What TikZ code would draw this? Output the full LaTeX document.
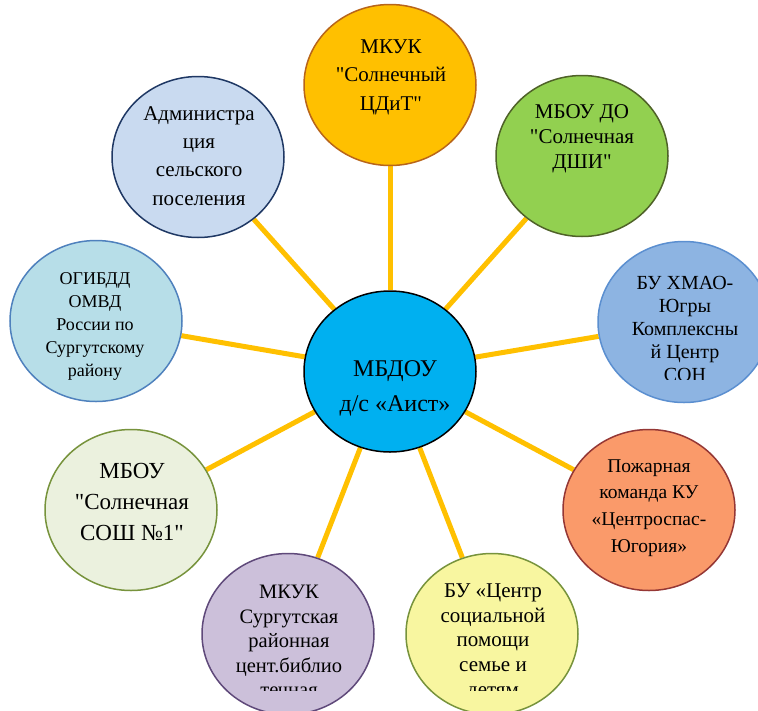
\documentclass[tikz,border=0pt]{standalone}
\usepackage{fontspec}
\setmainfont{Liberation Serif}[Ligatures=TeXOff]
\usetikzlibrary{shapes.geometric,backgrounds}

\definecolor{linkgold}{HTML}{FFC000}
\definecolor{hubfill}{HTML}{00B0F0}
\definecolor{cditfill}{HTML}{FFC000}
\definecolor{cditline}{HTML}{B8651A}
\definecolor{adminfill}{HTML}{C9DAF0}
\definecolor{adminline}{HTML}{1F3864}
\definecolor{dshifill}{HTML}{92D050}
\definecolor{dshiline}{HTML}{4F6228}
\definecolor{gibddfill}{HTML}{B7DEE8}
\definecolor{gibddline}{HTML}{4F81BD}
\definecolor{consfill}{HTML}{8DB4E2}
\definecolor{consline}{HTML}{5B8FD0}
\definecolor{soshfill}{HTML}{EBF1DE}
\definecolor{soshline}{HTML}{77933C}
\definecolor{firefill}{HTML}{FA9A6A}
\definecolor{fireline}{HTML}{953735}
\definecolor{libfill}{HTML}{CCC0DA}
\definecolor{libline}{HTML}{5F497A}
\definecolor{helpfill}{HTML}{F8F6A0}
\definecolor{helpline}{HTML}{77933C}

\tikzset{
  org/.style={ellipse, minimum width=172pt, minimum height=161pt, inner sep=0pt, line width=1.5pt},
  link/.style={linkgold, line width=5pt},
  txt/.style={align=center, inner sep=0pt},
}

\begin{document}
\begin{tikzpicture}[x=1pt,y=-1pt]
\clip (0,0) rectangle (758,710);
\node[org, draw=black, fill=hubfill] (hub) at (390,371.5) {};
\node[org, draw=cditline, fill=cditfill] (cdit) at (390,85) {};
\node[org, draw=adminline, fill=adminfill] (admin) at (198,157) {};
\node[org, draw=dshiline, fill=dshifill] (dshi) at (582,156) {};
\node[org, draw=gibddline, fill=gibddfill] (gibdd) at (96,321) {};
\node[org, draw=consline, fill=consfill] (cons) at (684,322) {};
\node[org, draw=soshline, fill=soshfill] (sosh) at (131,510) {};
\node[org, draw=fireline, fill=firefill] (fire) at (649,510) {};
\node[org, draw=libline, fill=libfill] (lib) at (288,634) {};
\node[org, draw=helpline, fill=helpfill] (help) at (492,634) {};

\begin{scope}[on background layer]
\draw[link] (hub) -- (cdit);
\draw[link] (hub) -- (admin);
\draw[link] (hub) -- (dshi);
\draw[link] (hub) -- (gibdd);
\draw[link] (hub) -- (cons);
\draw[link] (hub) -- (sosh);
\draw[link] (hub) -- (fire);
\draw[link] (hub) -- (lib);
\draw[link] (hub) -- (help);
\end{scope}

\node[txt, font={\fontsize{24}{35}\selectfont}] (hub-t) at (395,388) {МБДОУ\\д/с «Аист»};
\node[txt, font={\fontsize{21}{28.5}\selectfont}] (cdit-t) at (391,77) {МКУК\\"Солнечный\\ЦДиТ"};
\node[txt, font={\fontsize{21}{28.3}\selectfont}] (admin-t) at (199,156) {Администра\\ция\\сельского\\поселения};
\node[txt, font={\fontsize{21}{25}\selectfont}] (dshi-t) at (582,139) {МБОУ ДО\\"Солнечная\\ДШИ"};
\node[txt, font={\fontsize{23}{31}\selectfont}] (sosh-t) at (132,501.5) {МБОУ\\"Солнечная\\СОШ №1"};
\node[txt, font={\fontsize{19.5}{26.7}\selectfont}] (fire-t) at (649,508) {Пожарная\\команда КУ\\«Центроспас-\\Югория»};
\begin{scope}
\clip (0,0) rectangle (758,379);
\node[txt, font={\fontsize{18}{23}\selectfont}] (gibdd-t) at (95,326.5) {ОГИБДД\\ОМВД\\России по\\Сургутскому\\району};
\node[txt, font={\fontsize{20}{23}\selectfont}] (cons-t) at (685,329) {БУ ХМАО-\\Югры\\Комплексны\\й Центр\\СОН};
\end{scope}
\begin{scope}
\clip (0,0) rectangle (758,690);
\node[txt, font={\fontsize{20.5}{24.5}\selectfont}] (lib-t) at (289,641) {МКУК\\Сургутская\\районная\\цент.библио\\течная};
\node[txt, font={\fontsize{21}{24.6}\selectfont}] (help-t) at (493,642) {БУ «Центр\\социальной\\помощи\\семье и\\детям};
\end{scope}
\end{tikzpicture}
\end{document}
